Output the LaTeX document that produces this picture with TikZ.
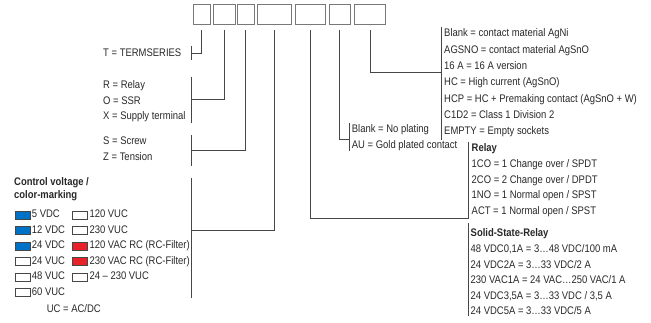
\documentclass[tikz,border=0pt]{standalone}
\usepackage{fontspec}
\setmainfont{Liberation Sans}[FakeStretch=0.86]
\definecolor{vblue}{RGB}{0,114,198}
\definecolor{vred}{RGB}{232,32,40}
\definecolor{boxgray}{RGB}{120,120,120}
\definecolor{linegray}{RGB}{70,70,70}
\definecolor{textgray}{RGB}{40,40,40}
\begin{document}
\begin{tikzpicture}[x=1pt,y=-1pt,
  codebox/.style={draw=boxgray, line width=0.8pt, minimum height=20pt, inner sep=0pt},
  ln/.style={draw=linegray, line width=0.9pt},
  txt/.style={anchor=west, inner sep=0pt, text=textgray, font=\fontsize{11}{13}\selectfont, text height=7.9pt, text depth=2.1pt},
  btxt/.style={txt, font=\fontsize{11}{13}\selectfont\bfseries},
  sw/.style={draw=linegray, line width=0.5pt, minimum width=15pt, minimum height=8pt, inner sep=0pt}]
\useasboundingbox (0,0) rectangle (651,322);
% code boxes
\node[codebox, minimum width=16.7pt] (b1) at (201.7,14) {};
\node[codebox, minimum width=21.7pt] (b2) at (224.2,14) {};
\node[codebox, minimum width=17pt]   (b3) at (245.8,14) {};
\node[codebox, minimum width=34.4pt] (b4) at (274.5,14) {};
\node[codebox, minimum width=30.7pt] (b5) at (310.3,14) {};
\node[codebox, minimum width=20.7pt] (b6) at (339.7,14) {};
\node[codebox, minimum width=31.4pt] (b7) at (370,14) {};
% bracket junctions
\coordinate (kT) at (191.7,53);
\coordinate (kR) at (191.7,99.3);
\coordinate (kS) at (191.7,150.5);
\coordinate (kC) at (191.7,230);
\coordinate (kRel) at (468,218);
\coordinate (kP) at (349.3,139.3);
\coordinate (kM) at (441.7,72);
% connectors
\draw[ln] ([yshift=-6pt]b1.south) |- (kT);
\draw[ln] ([yshift=-6pt]b2.south) |- (kR);
\draw[ln] ([yshift=-6pt]b3.south) |- (kS);
\draw[ln] ([yshift=-6pt]b4.south) |- (kC);
\draw[ln] ([yshift=-6pt]b5.south) |- (kRel);
\draw[ln] ([yshift=-6pt]b6.south) |- (kP);
\draw[ln] ([yshift=-6pt]b7.south) |- (kM);
% brackets
\draw[ln] (191.7,46) -- (191.7,60);
\draw[ln] (191.7,76.7) -- (191.7,123);
\draw[ln] (191.7,135) -- (191.7,166);
\draw[ln] (191.7,177.7) -- (191.7,298);
\draw[ln] (349.3,123) -- (349.3,151);
\draw[ln] (441.7,27) -- (441.7,140);
\draw[ln] (468,142) -- (468,219);
\draw[ln] (468,223) -- (468,316);
% left texts
\node[txt] (tT) at (103,54) {T = TERMSERIES};
\node[txt] (tR) at (103,86) {R = Relay};
\node[txt] (tO) at (103,101.5) {O = SSR};
\node[txt] (tX) at (103,117) {X = Supply terminal};
\node[txt] (tS) at (103,141.7) {S = Screw};
\node[txt] (tZ) at (103,157.3) {Z = Tension};
\node[btxt] (cv1) at (14,182.7) {Control voltage /};
\node[btxt] (cv2) at (14,196) {color-marking};
% legend column 1
\node[sw, fill=vblue] (s1) at (22.8,215) {};
\node[txt] (l1) at (31.7,215) {5 VDC};
\node[sw, fill=vblue] (s2) at (22.8,230.5) {};
\node[txt] (l2) at (31.7,230.5) {12 VDC};
\node[sw, fill=vblue] (s3) at (22.8,246) {};
\node[txt] (l3) at (31.7,246) {24 VDC};
\node[sw, fill=white] (s4) at (22.8,261.5) {};
\node[txt] (l4) at (31.7,261.5) {24 VUC};
\node[sw, fill=white] (s5) at (22.8,277) {};
\node[txt] (l5) at (31.7,277) {48 VUC};
\node[sw, fill=white] (s6) at (22.8,292.5) {};
\node[txt] (l6) at (31.7,292.5) {60 VUC};
% legend column 2
\node[sw, fill=white] (s7) at (80,215) {};
\node[txt] (l7) at (89.3,215) {120 VUC};
\node[sw, fill=white] (s8) at (80,230.5) {};
\node[txt] (l8) at (89.3,230.5) {230 VUC};
\node[sw, fill=vred] (s9) at (80,246) {};
\node[txt] (l9) at (89.3,246) {120 VAC RC (RC-Filter)};
\node[sw, fill=vred] (s10) at (80,261.5) {};
\node[txt] (l10) at (89.3,261.5) {230 VAC RC (RC-Filter)};
\node[sw, fill=white] (s11) at (80,277) {};
\node[txt] (l11) at (89.3,277) {24 – 230 VUC};
\node[txt] (uc) at (46.7,310) {UC = AC/DC};
% plating
\node[txt] (p1) at (351.7,130) {Blank = No plating};
\node[txt] (p2) at (351.7,146) {AU = Gold plated contact};
% contact material
\node[txt] (m1) at (444,34) {Blank = contact material AgNi};
\node[txt] (m2) at (444,50.3) {AGSNO = contact material AgSnO};
\node[txt] (m3) at (444,66.6) {16 A = 16 A version};
\node[txt] (m4) at (444,82.9) {HC = High current (AgSnO)};
\node[txt] (m5) at (444,99.2) {HCP = HC + Premaking contact (AgSnO + W)};
\node[txt] (m6) at (444,115.5) {C1D2 = Class 1 Division 2};
\node[txt] (m7) at (444,131.8) {EMPTY = Empty sockets};
% relay
\node[btxt] (rh) at (471.5,148.5) {Relay};
\node[txt] (r1) at (471.5,164.3) {1CO = 1 Change over / SPDT};
\node[txt] (r2) at (471.5,180.1) {2CO = 2 Change over / DPDT};
\node[txt] (r3) at (471.5,195.9) {1NO = 1 Normal open / SPST};
\node[txt] (r4) at (471.5,211.7) {ACT = 1 Normal open / SPST};
% SSR
\node[btxt] (sh) at (470.5,234) {Solid-State-Relay};
\node[txt] (q1) at (470.5,249.6) {48 VDC0,1A = 3…48 VDC/100 mA};
\node[txt] (q2) at (470.5,265.2) {24 VDC2A = 3…33 VDC/2 A};
\node[txt] (q3) at (470.5,280.8) {230 VAC1A = 24 VAC…250 VAC/1 A};
\node[txt] (q4) at (470.5,296.4) {24 VDC3,5A = 3…33 VDC / 3,5 A};
\node[txt] (q5) at (470.5,312) {24 VDC5A = 3…33 VDC/5 A};
\end{tikzpicture}
\end{document}
